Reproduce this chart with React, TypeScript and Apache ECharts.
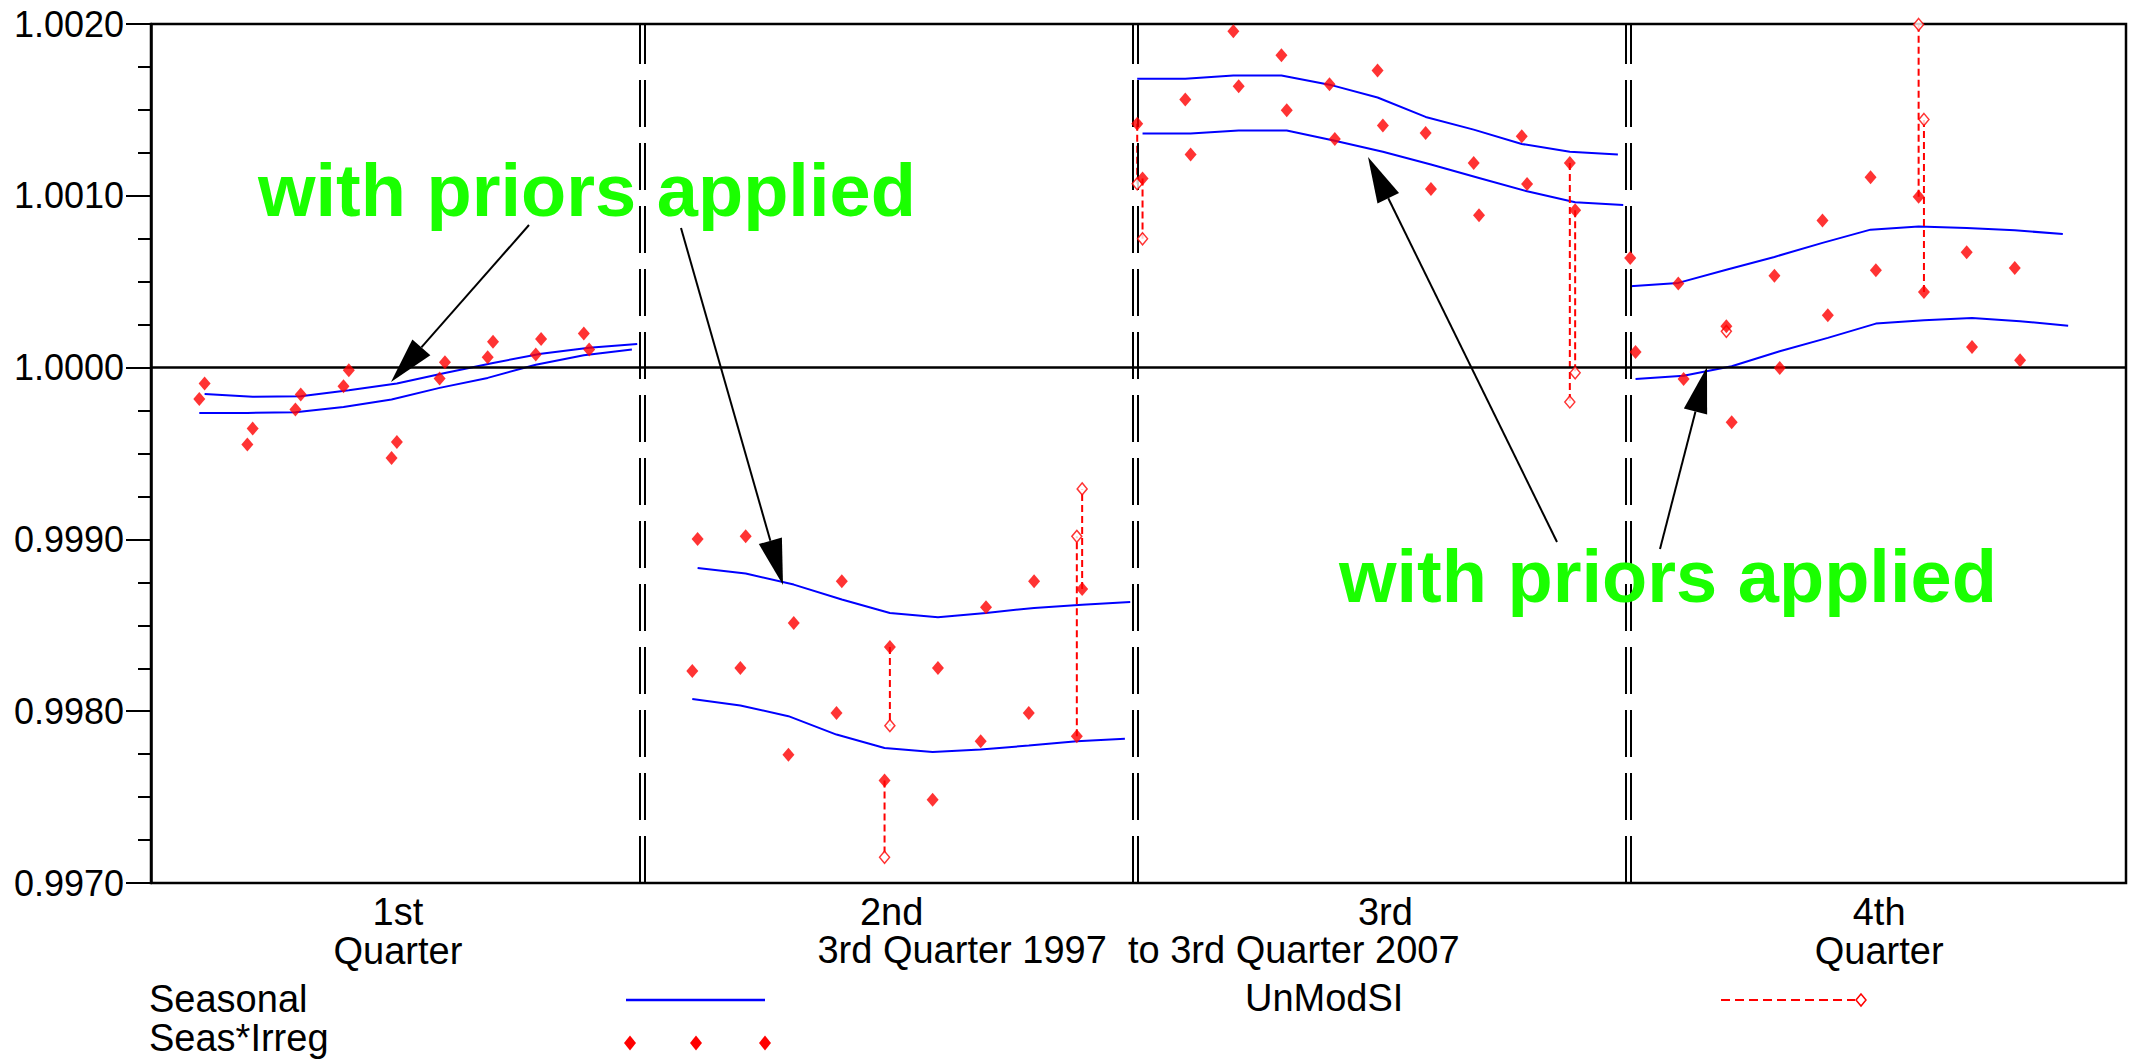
import React, { useEffect, useRef } from "react";
import * as echarts from "echarts";

// ---------------- texts ----------------
const quarterLabels = ["1st\nQuarter", "2nd", "3rd", "4th\nQuarter"];
const spanTitle = "3rd Quarter 1997  to 3rd Quarter 2007";
const annotationText = "with priors applied";
const legendSeasonal = "Seasonal";
const legendSI = "Seas*Irreg";
const legendUnmod = "UnModSI";

// ---------------- axis ----------------
const yMin = 0.997;
const yMax = 1.002;
const yStep = 0.001;
const baseYear = 1997;

// first year plotted in each quarter panel (Q1..Q4)
const seasonalStartYear = [1998, 1998, 1997, 1997];
const siStartYear = [1998, 1998, 1997, 1997];

// ---------------- seasonal factors (without priors) ----------------
const seasonalQ1 = [0.999736, 0.999736, 0.99974, 0.999771, 0.999814, 0.999882, 0.99994, 1.000017, 1.000072, 1.000105];
const seasonalQ2 = [0.998071, 0.998033, 0.997971, 0.997864, 0.997786, 0.997763, 0.997777, 0.9978, 0.997825, 0.997839];
const seasonalQ3 = [1.001682, 1.001682, 1.0017, 1.0017, 1.001647, 1.001572, 1.001459, 1.001385, 1.001302, 1.001256, 1.00124];
const seasonalQ4 = [1.000473, 1.000493, 1.00057, 1.000644, 1.000726, 1.000803, 1.000822, 1.000813, 1.000799, 1.000778];

// ---------------- seasonal factors (with priors applied) ----------------
const seasonalPriorQ1 = [0.999847, 0.99983, 0.999833, 0.999868, 0.999907, 0.999969, 1.000027, 1.000081, 1.000115, 1.000138];
const seasonalPriorQ2 = [0.998834, 0.998801, 0.998737, 0.99865, 0.998572, 0.998547, 0.998572, 0.998601, 0.99862, 0.998636];
const seasonalPriorQ3 = [1.001362, 1.001362, 1.00138, 1.00138, 1.001321, 1.001256, 1.001182, 1.001104, 1.001026, 1.000962, 1.000947];
const seasonalPriorQ4 = [0.999934, 0.999953, 1.000008, 1.000095, 1.000173, 1.000256, 1.000275, 1.000289, 1.00027, 1.000244];

// ---------------- SI ratios (without priors) ----------------
const siQ1 = [0.999817, 0.999552, 0.999756, 0.999891, 0.999474, 0.999936, 1.00006, 1.000076, 1.000198];
const siQ2 = [0.998234, 0.998252, 0.997747, 0.99799, 0.997596, 0.997485, 0.997825, 0.99799, 0.997854];
const siQ3 = [1.00142, 1.00156, 1.001958, 1.001818, 1.00165, 1.001729, 1.001366, 1.001191, 1.001346, 1.001191];
const siQ4 = [1.000638, 1.000489, 1.00024, 1.000535, 1.000856, 1.001108, 1.000994, 1.000671, 1.00058];

// ---------------- SI ratios (with priors applied) ----------------
const siPriorQ1 = [0.999907, 0.999645, 0.999843, 0.999984, 0.999567, 1.000031, 1.00015, 1.000167, 1.000105];
const siPriorQ2 = [0.999003, 0.999018, 0.998514, 0.998756, 0.998374, 0.998252, 0.998605, 0.998756, 0.998712];
const siPriorQ3 = [1.0011, 1.00124, 1.001637, 1.001498, 1.00133, 1.001409, 1.00104, 1.000887, 1.001069, 1.000916];
const siPriorQ4 = [1.000091, 0.999934, 0.999682, 0.999998, 1.000305, 1.000567, 1.00044, 1.00012, 1.000043];

// ---------------- unmodified SI: [quarter index, year, value] ----------------
const unmodSI = [
  [1, 2002, 0.99715],
  [1, 2006, 0.999018],
  [2, 1997, 1.00107],
  [2, 2006, 0.9998],
  [3, 1999, 1.000211],
  [3, 2003, 1.001997],
];
const unmodSIPrior = [
  [1, 2002, 0.997916],
  [1, 2006, 0.999294],
  [2, 1997, 1.00075],
  [2, 2006, 0.99997],
  [3, 2003, 1.001444],
];

const seasonalSets = [seasonalQ1, seasonalQ2, seasonalQ3, seasonalQ4];
const seasonalPriorSets = [seasonalPriorQ1, seasonalPriorQ2, seasonalPriorQ3, seasonalPriorQ4];
const siSets = [siQ1, siQ2, siQ3, siQ4];
const siPriorSets = [siPriorQ1, siPriorQ2, siPriorQ3, siPriorQ4];

// ---------------- layout ----------------
const W = 2129;
const H = 1062;
const GRID_LEFT = 151;
const GRID_TOP = 24;
const GRID_W = 1975;
const GRID_H = 859;
const PANEL_PX = 493;
const X_MIN = 2 / PANEL_PX;
const X_MAX = X_MIN + GRID_W / PANEL_PX;
const PANEL_PAD = 0.0045;
const YEAR_STEP = 0.0975;
const PRIOR_SHIFT = 0.0108;
const DIV_HALF = 2.3 / PANEL_PX;

const FONT = '"Liberation Sans", Arial, sans-serif';
const BLUE = "#0000ff";
const RED = "#ff0000";
const GREEN = "#1aff00";

function xOf(q: number, year: number, prior: boolean) {
  return q + PANEL_PAD + (year - baseYear) * YEAR_STEP + (prior ? PRIOR_SHIFT : 0);
}

function arrow(x1: number, y1: number, x2: number, y2: number) {
  const dx = x2 - x1;
  const dy = y2 - y1;
  const len = Math.hypot(dx, dy);
  const ux = dx / len;
  const uy = dy / len;
  const bx = x2 - ux * 46;
  const by = y2 - uy * 46;
  const px = -uy * 12;
  const py = ux * 12;
  return [
    { type: "line", z: 20, silent: true, shape: { x1, y1, x2: bx, y2: by }, style: { stroke: "#000", lineWidth: 2 } },
    {
      type: "polygon",
      z: 20,
      silent: true,
      shape: { points: [[x2, y2], [bx + px, by + py], [bx - px, by - py]] },
      style: { fill: "#000" },
    },
  ];
}

function diamondShape(cx: number, cy: number, hw: number, hh: number) {
  return [[cx, cy - hh], [cx + hw, cy], [cx, cy + hh], [cx - hw, cy]];
}

function buildOption() {
  const series: any[] = [];

  [false, true].forEach((prior) => {
    (prior ? seasonalPriorSets : seasonalSets).forEach((vals, q) => {
      series.push({
        type: "line",
        name: legendSeasonal,
        xAxisIndex: 0,
        yAxisIndex: 0,
        data: vals.map((v, i) => [xOf(q, seasonalStartYear[q] + i, prior), v]),
        symbol: "none",
        showSymbol: false,
        lineStyle: { color: BLUE, width: 2 },
        z: 3,
        silent: true,
      });
    });
  });

  // 1.0000 reference line
  series[0].markLine = {
    silent: true,
    symbol: ["none", "none"],
    label: { show: false },
    lineStyle: { color: "#000", width: 2.5, type: "solid" },
    data: [{ yAxis: 1 }],
  };

  // double dashed quarter dividers
  const dividerData: any[] = [];
  [1, 2, 3].forEach((k) =>
    [-DIV_HALF, DIV_HALF].forEach((d) =>
      dividerData.push([{ coord: [k + d, yMax] }, { coord: [k + d, yMin] }])
    )
  );
  series[1].markLine = {
    silent: true,
    symbol: ["none", "none"],
    label: { show: false },
    lineStyle: { color: "#000", width: 2, type: [47, 16], dashOffset: 7 },
    data: dividerData,
  };

  const siValue = (q: number, year: number, prior: boolean) =>
    (prior ? siPriorSets : siSets)[q][year - siStartYear[q]];

  const connectorData = [
    ...unmodSI.map(([q, y, v]) => [xOf(q, y, false), siValue(q, y, false), v]),
    ...unmodSIPrior.map(([q, y, v]) => [xOf(q, y, true), siValue(q, y, true), v]),
  ];

  series.push({
    type: "custom",
    name: legendUnmod,
    data: connectorData,
    z: 4,
    silent: true,
    clip: false,
    encode: { x: 0, y: [1, 2] },
    renderItem: (_params: any, api: any) => {
      const a = api.coord([api.value(0), api.value(1)]);
      const b = api.coord([api.value(0), api.value(2)]);
      return {
        type: "line",
        shape: { x1: a[0], y1: a[1], x2: b[0], y2: b[1] },
        style: { stroke: RED, lineWidth: 2, lineDash: [7, 4] },
      };
    },
  });

  series.push({
    type: "scatter",
    name: legendUnmod,
    data: connectorData.map((d) => [d[0], d[2]]),
    symbol: "diamond",
    symbolSize: [10, 12],
    itemStyle: { color: "#ffffff", borderColor: RED, borderWidth: 1.5 },
    z: 5,
    clip: false,
    silent: true,
  });

  const siData: number[][] = [];
  [false, true].forEach((prior) => {
    (prior ? siPriorSets : siSets).forEach((vals, q) => {
      vals.forEach((v, i) => siData.push([xOf(q, siStartYear[q] + i, prior), v]));
    });
  });
  series.push({
    type: "scatter",
    name: legendSI,
    data: siData,
    symbol: "diamond",
    symbolSize: [12, 14],
    itemStyle: { color: RED },
    z: 6,
    clip: false,
    silent: true,
  });

  const textBase = { fontFamily: FONT, fontSize: 38, lineHeight: 30, fill: "#000", align: "left", verticalAlign: "middle" };

  const graphic: any[] = [
    {
      type: "text",
      x: 258,
      y: 190,
      z: 20,
      silent: true,
      style: { text: annotationText, fontFamily: FONT, fontWeight: "bold", fontSize: 74, fill: GREEN, align: "left", verticalAlign: "middle" },
    },
    {
      type: "text",
      x: 1339,
      y: 576,
      z: 20,
      silent: true,
      style: { text: annotationText, fontFamily: FONT, fontWeight: "bold", fontSize: 74, fill: GREEN, align: "left", verticalAlign: "middle" },
    },
    ...arrow(529, 225, 391, 382),
    ...arrow(681, 228, 783, 585),
    ...arrow(1557, 542, 1368, 157),
    ...arrow(1660, 549, 1707, 367),
    // span title (second row under the quarter labels)
    {
      type: "text",
      x: GRID_LEFT + GRID_W / 2,
      y: 950,
      silent: true,
      style: { ...textBase, text: spanTitle, align: "center" },
    },
    // legend
    { type: "text", x: 149, y: 999, silent: true, style: { ...textBase, text: legendSeasonal } },
    { type: "line", silent: true, shape: { x1: 626, y1: 1000, x2: 765, y2: 1000 }, style: { stroke: BLUE, lineWidth: 2.5 } },
    { type: "text", x: 149, y: 1038, silent: true, style: { ...textBase, text: legendSI } },
    ...[630, 696, 765].map((cx) => ({
      type: "polygon",
      silent: true,
      shape: { points: diamondShape(cx, 1043, 6, 7.5) },
      style: { fill: RED },
    })),
    { type: "text", x: 1245, y: 998, silent: true, style: { ...textBase, text: legendUnmod } },
    {
      type: "line",
      silent: true,
      shape: { x1: 1721, y1: 1000, x2: 1855, y2: 1000 },
      style: { stroke: RED, lineWidth: 2, lineDash: [9, 5] },
    },
    {
      type: "polygon",
      silent: true,
      shape: { points: diamondShape(1861, 1000, 5, 6) },
      style: { fill: "#fff", stroke: RED, lineWidth: 1.5 },
    },
  ];

  return {
    animation: false,
    backgroundColor: "#ffffff",
    grid: {
      left: GRID_LEFT,
      top: GRID_TOP,
      width: GRID_W,
      height: GRID_H,
      show: true,
      borderColor: "#000",
      borderWidth: 2.5,
      backgroundColor: "#ffffff",
      containLabel: false,
      outerBoundsMode: "none",
    },
    xAxis: [
      {
        type: "value",
        min: X_MIN,
        max: X_MAX,
        show: false,
        axisLine: { onZero: false },
      },
      {
        type: "category",
        position: "bottom",
        data: quarterLabels,
        boundaryGap: true,
        axisLine: { show: false, onZero: false },
        axisTick: { show: false },
        splitLine: { show: false },
        axisLabel: {
          fontFamily: FONT,
          fontSize: 38,
          lineHeight: 39,
          color: "#000",
          margin: 9,
          interval: 0,
        },
      },
    ],
    yAxis: {
      type: "value",
      min: yMin,
      max: yMax,
      interval: yStep,
      axisLine: { show: true, onZero: false, lineStyle: { color: "#000", width: 2.5 } },
      axisTick: { show: true, inside: false, length: 25, lineStyle: { color: "#000", width: 2 } },
      minorTick: { show: true, splitNumber: 4, length: 13, lineStyle: { color: "#000", width: 2 } },
      splitLine: { show: false },
      minorSplitLine: { show: false },
      axisLabel: {
        fontFamily: FONT,
        fontSize: 36,
        color: "#000",
        margin: 27,
        formatter: (v: number) => v.toFixed(4),
      },
    },
    series,
    graphic,
  };
}

export default function App() {
  const ref = useRef<HTMLDivElement | null>(null);
  useEffect(() => {
    if (!ref.current) return;
    const chart = echarts.init(ref.current, undefined, { renderer: "svg", width: W, height: H });
    chart.setOption(buildOption() as any);
    return () => chart.dispose();
  }, []);
  return (
    <div style={{ position: "fixed", left: 0, top: 0, width: W, height: H, background: "#fff" }}>
      <div ref={ref} style={{ width: W, height: H }} />
    </div>
  );
}
